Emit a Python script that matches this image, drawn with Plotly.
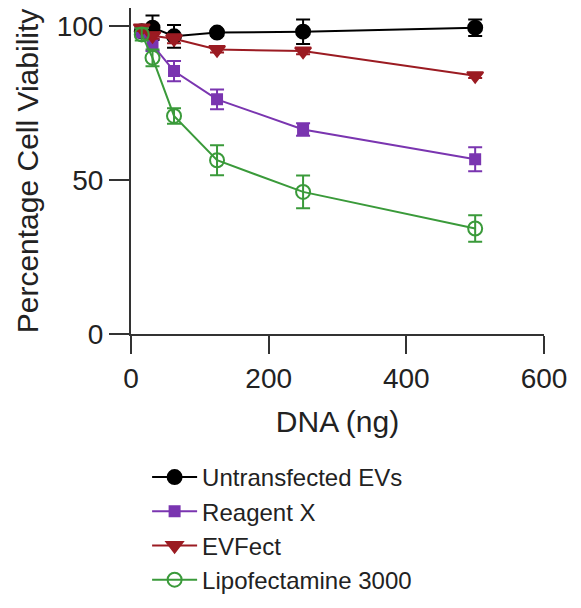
import plotly.graph_objects as go

dna = [15.6, 31.25, 62.5, 125, 250, 500]

untrans = [98.4, 99.6, 96.8, 98.0, 98.3, 99.6]
untrans_err = [1.5, 4.0, 3.7, 1.0, 4.0, 2.7]

reagent = [98.0, 94.0, 85.5, 76.3, 66.5, 56.8]
reagent_err = [1.5, 2.0, 3.3, 3.2, 2.0, 3.9]

evfect = [99.5, 97.0, 96.0, 92.5, 92.0, 84.0]
evfect_err = [1.0, 1.0, 1.5, 1.0, 1.0, 0.8]

lipo = [97.4, 89.8, 70.9, 56.5, 46.2, 34.3]
lipo_err = [2.0, 2.7, 2.5, 4.9, 5.3, 4.3]

names = ["Untransfected EVs", "Reagent X", "EVFect", "Lipofectamine 3000"]
colors = ["#000000", "#7a35b0", "#9b1b22", "#3a9a3a"]
symbols = ["circle", "square", "triangle-down", "circle-open"]
sizes = [14, 10, 14, 14]
series = [(untrans, untrans_err), (reagent, reagent_err), (evfect, evfect_err), (lipo, lipo_err)]

fig = go.Figure()
for (vals, errs), name, col, sym, sz in zip(series, names, colors, symbols, sizes):
    fig.add_trace(go.Scatter(
        x=dna, y=vals, name=name, mode="lines+markers",
        line=dict(color=col, width=2),
        marker=dict(symbol=sym, size=sz, color=col, line=dict(color=col, width=2)),
        error_y=dict(type="data", array=errs, visible=True, color=col, thickness=2, width=7),
    ))

axis_font = dict(family="Liberation Sans, Arial, sans-serif", size=28, color="#222")
fig.update_layout(
    width=581, height=608,
    margin=dict(l=131, r=37, t=8, b=273),
    paper_bgcolor="white", plot_bgcolor="white",
    font=dict(family="Liberation Sans, Arial, sans-serif", color="#222"),
    showlegend=True,
    legend=dict(
        x=0.039, y=-0.367, xanchor="left", yanchor="top",
        font=dict(size=24, color="#222"),
        tracegroupgap=0, itemwidth=45,
    ),
    xaxis=dict(
        range=[0, 600], tickvals=[0, 200, 400, 600], showgrid=False, zeroline=False,
        showline=True, linecolor="#333", linewidth=2, ticks="outside", ticklen=18,
        tickwidth=2, tickcolor="#333", tickfont=axis_font,
        title=dict(text="DNA (ng)", font=dict(size=30, color="#222"), standoff=18),
    ),
    yaxis=dict(
        range=[0, 106], tickvals=[0, 50, 100], showgrid=False, zeroline=False,
        showline=True, linecolor="#333", linewidth=2, ticks="outside", ticklen=20,
        tickwidth=2, tickcolor="#333", tickfont=axis_font,
        title=dict(text="Percentage Cell Viability", font=dict(size=30, color="#222"), standoff=9),
    ),
)

fig.write_html("out.html")
